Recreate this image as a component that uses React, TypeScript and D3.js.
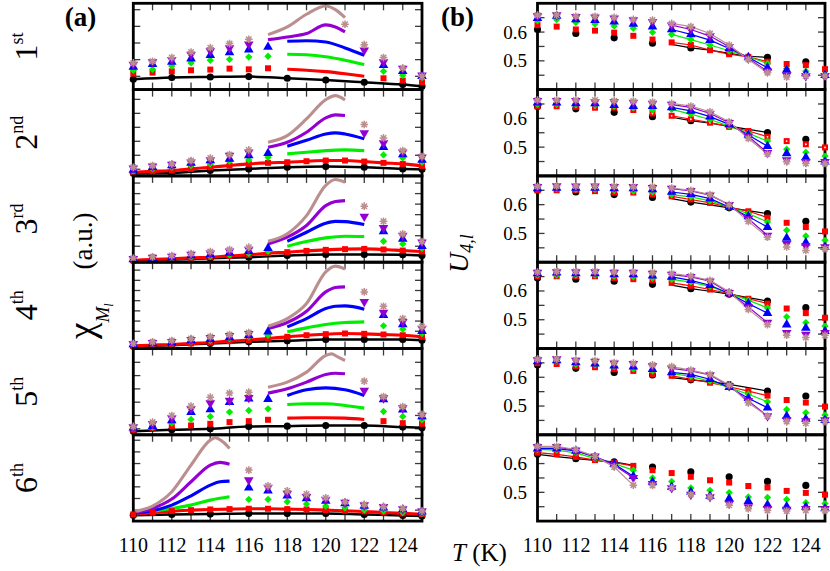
import React, { useEffect, useRef } from 'react';
import * as d3 from 'd3';

type Pt = [number, number];
type Num = number | null;

interface ChiSeries {
  marks: Pt[];
  fit?: Pt[];
  through?: boolean; // fit line drawn through the marks themselves
}

// temperatures (K)
const T_ALL = [110, 111, 112, 113, 114, 115, 116, 117, 118, 119, 120, 121, 122, 123, 124, 125];
const T_LABELS = [110, 112, 114, 116, 118, 120, 122, 124];

const ORDINALS = [['1', 'st'], ['2', 'nd'], ['3', 'rd'], ['4', 'th'], ['5', 'th'], ['6', 'th']];

const SERIES_KEYS = ['black', 'red', 'green', 'blue', 'purple', 'rosy'];
const COLORS: Record<string, string> = {
  black: '#000000',
  red: '#ff0000',
  green: '#00ee00',
  blue: '#0000ff',
  purple: '#9400d3',
  rosy: '#bc8f8f'
};

// ---------- panel (a): chi_M (a.u.), one object per mode ----------
const chi1st: Record<string, ChiSeries> = {
  black: { through: true, marks: [[110, 1.19], [112, 1.39], [114, 1.46], [116, 1.51], [118, 1.31], [120, 1.11], [122, 0.85], [124, 0.58], [125, 0.38]] },
  red: { marks: [[110, 1.85], [111, 1.97], [112, 2.12], [113, 2.24], [114, 2.32], [115, 2.43], [116, 2.35], [117, 2.47], [123, 1.31], [124, 1.04], [125, 0.85]],
    fit: [[118, 2.36], [119, 2.25], [120, 2.08], [121, 1.83], [122, 1.54]] },
  green: { marks: [[110, 2.24], [111, 2.35], [112, 2.74], [113, 3.09], [114, 3.4], [115, 3.51], [116, 3.78], [117, 3.86], [123, 2.12], [124, 1.66], [125, 1.39]],
    fit: [[118, 4.09], [119, 4.03], [120, 3.8], [121, 3.4], [122, 2.9]] },
  blue: { marks: [[110, 2.63], [111, 2.93], [112, 3.2], [113, 3.59], [114, 3.98], [115, 4.29], [116, 4.63], [117, 4.94], [123, 2.82], [124, 2.12], [125, 1.54]],
    fit: [[118, 5.6], [119, 5.66], [120, 5.52], [121, 4.83], [122, 3.98]] },
  purple: { marks: [[110, 2.9], [111, 3.2], [112, 3.47], [113, 4.05], [114, 4.48], [115, 4.83], [116, 5.25], [122, 4.56], [123, 3.2], [124, 2.43], [125, 1.66]],
    fit: [[117, 5.79], [118, 6.1], [119, 6.49], [120, 7.5], [120.5, 7.26], [121, 6.68]] },
  rosy: { marks: [[110, 3.09], [111, 3.28], [112, 3.71], [113, 4.36], [114, 4.86], [115, 5.33], [116, 5.83], [121, 7.57], [122, 5.21], [123, 3.71], [124, 2.51], [125, 1.54]],
    fit: [[117, 6.37], [118, 7.26], [119, 8.73], [120, 9.69], [120.5, 9.27], [121, 8.34]] }
};

const chi2nd: Record<string, ChiSeries> = {
  black: { through: true, marks: [[110, 0.31], [112, 0.35], [114, 0.62], [116, 0.81], [118, 1.0], [120, 1.08], [122, 1.0], [124, 0.81], [125, 0.77]] },
  red: { through: true, marks: [[110, 0.42], [111, 0.52], [112, 0.62], [113, 0.81], [114, 1.0], [115, 1.2], [116, 1.39], [117, 1.51], [118, 1.58], [119, 1.7], [120, 1.78], [121, 1.78], [122, 1.66], [123, 1.51], [124, 1.39], [125, 1.16]] },
  green: { marks: [[110, 0.54], [111, 0.81], [112, 1.0], [113, 1.2], [114, 1.39], [115, 1.7], [116, 1.85], [117, 2.16], [123, 2.43], [124, 2.08], [125, 1.58]],
    fit: [[118, 2.55], [119, 2.74], [120, 2.93], [121, 3.01], [122, 2.93]] },
  blue: { marks: [[110, 0.69], [111, 1.0], [112, 1.2], [113, 1.51], [114, 1.78], [115, 1.97], [116, 2.36], [117, 2.63], [123, 3.32], [124, 2.47], [125, 1.85]],
    fit: [[118, 3.44], [119, 4.13], [120, 4.86], [120.5, 4.98], [121, 4.86], [122, 4.29]] },
  purple: { marks: [[110, 0.89], [111, 1.12], [112, 1.31], [113, 1.58], [114, 1.85], [115, 2.36], [116, 2.74], [122, 4.98], [123, 3.82], [124, 2.74], [125, 2.16]],
    fit: [[117, 3.32], [118, 3.9], [119, 5.06], [120, 6.72], [120.5, 7.07], [121, 6.99]] },
  rosy: { marks: [[110, 1.0], [111, 1.2], [112, 1.39], [113, 1.78], [114, 2.08], [115, 2.47], [116, 3.01], [122, 5.95], [123, 4.4], [124, 2.93], [125, 2.24]],
    fit: [[117, 3.9], [118, 4.67], [119, 6.6], [120, 8.84], [120.5, 9.3], [121, 8.8]] }
};

const chi3rd: Record<string, ChiSeries> = {
  black: { through: true, marks: [[110, 0.19], [112, 0.31], [114, 0.46], [116, 0.58], [118, 0.77], [120, 0.89], [122, 0.89], [124, 0.85], [125, 0.77]] },
  red: { through: true, marks: [[110, 0.23], [111, 0.31], [112, 0.39], [113, 0.5], [114, 0.58], [115, 0.73], [116, 0.85], [117, 1.04], [118, 1.16], [119, 1.31], [120, 1.43], [121, 1.51], [122, 1.54], [123, 1.47], [124, 1.35], [125, 1.24]] },
  green: { marks: [[110, 0.23], [111, 0.31], [112, 0.39], [113, 0.58], [114, 0.69], [115, 0.85], [116, 1.04], [117, 1.27], [123, 2.43], [124, 2.12], [125, 1.62]],
    fit: [[118, 1.85], [119, 2.39], [120, 2.82], [121, 3.01], [122, 2.97]] },
  blue: { marks: [[110, 0.31], [111, 0.46], [112, 0.54], [113, 0.77], [114, 0.89], [115, 1.08], [116, 1.27], [117, 1.62], [123, 3.55], [124, 2.7], [125, 1.85]],
    fit: [[118, 2.43], [119, 3.47], [120, 4.52], [120.5, 4.73], [121, 4.7], [122, 4.36]] },
  purple: { marks: [[110, 0.39], [111, 0.54], [112, 0.66], [113, 0.89], [114, 1.04], [115, 1.27], [116, 1.47], [122, 5.29], [123, 3.98], [124, 3.09], [125, 2.32]],
    fit: [[117, 2.12], [118, 2.9], [119, 4.25], [120, 6.56], [120.5, 7.03], [121, 7.14]] },
  rosy: { marks: [[110, 0.46], [111, 0.62], [112, 0.77], [113, 1.0], [114, 1.24], [115, 1.47], [116, 1.74], [122, 6.49], [123, 4.75], [124, 3.28], [125, 2.39]],
    fit: [[117, 2.43], [118, 3.3], [119, 5.4], [120, 8.9], [120.5, 9.58], [121, 9.27]] }
};

const chi4th: Record<string, ChiSeries> = {
  black: { through: true, marks: [[110, 0.27], [112, 0.39], [114, 0.58], [116, 0.77], [118, 0.89], [120, 1.04], [122, 1.04], [124, 1.04], [125, 0.97]] },
  red: { through: true, marks: [[110, 0.31], [111, 0.39], [112, 0.46], [113, 0.58], [114, 0.69], [115, 0.85], [116, 0.97], [117, 1.16], [118, 1.35], [119, 1.54], [120, 1.66], [121, 1.74], [122, 1.7], [123, 1.62], [124, 1.54], [125, 1.35]] },
  green: { marks: [[110, 0.39], [111, 0.46], [112, 0.58], [113, 0.77], [114, 0.93], [115, 1.16], [116, 1.35], [117, 1.54], [123, 2.63], [124, 2.24], [125, 1.74]],
    fit: [[118, 1.93], [119, 2.39], [120, 2.78], [121, 3.01], [122, 3.09]] },
  blue: { marks: [[110, 0.46], [111, 0.58], [112, 0.69], [113, 0.93], [114, 1.08], [115, 1.27], [116, 1.54], [117, 1.93], [123, 3.86], [124, 2.78], [125, 2.01]],
    fit: [[118, 2.51], [119, 3.47], [120, 4.63], [120.5, 4.9], [121, 4.94], [122, 4.56]] },
  purple: { marks: [[110, 0.54], [111, 0.66], [112, 0.77], [113, 1.0], [114, 1.24], [115, 1.47], [116, 1.7], [122, 5.41], [123, 4.17], [124, 3.09], [125, 2.32]],
    fit: [[117, 2.32], [118, 3.01], [119, 4.32], [120, 6.56], [120.5, 7.07], [121, 7.14]] },
  rosy: { marks: [[110, 0.58], [111, 0.77], [112, 0.93], [113, 1.16], [114, 1.39], [115, 1.62], [116, 1.85], [122, 6.56], [123, 4.9], [124, 3.47], [125, 2.51]],
    fit: [[117, 2.59], [118, 3.47], [119, 5.21], [120, 8.88], [120.5, 9.54], [121, 9.19]] }
};

const chi5th: Record<string, ChiSeries> = {
  black: { through: true, marks: [[110, 0.42], [112, 0.58], [114, 0.69], [116, 0.97], [118, 1.0], [120, 1.08], [122, 1.08], [124, 0.89], [125, 0.81]] },
  red: { marks: [[110, 0.58], [111, 0.81], [112, 1.0], [113, 1.08], [114, 1.27], [115, 1.47], [116, 1.58], [117, 1.74], [123, 1.58], [124, 1.35], [125, 1.27]],
    fit: [[118, 1.93], [119, 1.97], [120, 1.97], [121, 1.93], [122, 1.78]] },
  green: { marks: [[110, 0.69], [111, 0.89], [112, 1.35], [113, 1.78], [114, 2.12], [115, 2.63], [116, 2.82], [117, 3.01], [123, 2.7], [124, 2.12], [125, 1.74]],
    fit: [[118, 3.51], [119, 3.59], [120, 3.59], [121, 3.4], [122, 3.09]] },
  blue: { marks: [[110, 0.81], [111, 1.0], [112, 1.66], [113, 2.63], [114, 2.94], [115, 3.78], [116, 4.17], [117, 4.13], [123, 4.09], [124, 2.9], [125, 2.12]],
    fit: [[118, 4.56], [119, 5.21], [120, 5.44], [121, 5.21], [122, 4.56]] },
  purple: { marks: [[110, 0.89], [111, 1.27], [112, 1.93], [113, 3.01], [114, 3.67], [115, 3.98], [116, 4.29], [122, 5.14], [123, 4.25], [124, 3.09], [125, 2.24]],
    fit: [[117, 4.83], [118, 5.33], [119, 6.1], [120, 6.99], [120.5, 7.14], [121, 7.07]] },
  rosy: { marks: [[110, 0.97], [111, 1.47], [112, 2.24], [113, 3.32], [114, 4.36], [115, 4.83], [116, 4.94], [122, 6.22], [123, 4.44], [124, 3.28], [125, 2.36]],
    fit: [[117, 5.52], [118, 6.1], [119, 7.26], [120, 9.19], [120.3, 9.38], [120.6, 9.05], [121, 8.61]] }
};

const chi6th: Record<string, ChiSeries> = {
  black: { through: true, marks: [[110, 0.69], [112, 0.77], [114, 0.81], [116, 0.89], [118, 0.89], [120, 0.89], [122, 0.77], [124, 0.66], [125, 0.58]] },
  red: { through: true, marks: [[110, 0.77], [111, 0.97], [112, 1.16], [113, 1.27], [114, 1.35], [115, 1.39], [116, 1.43], [117, 1.43], [118, 1.39], [119, 1.35], [120, 1.27], [121, 1.2], [122, 1.12], [123, 1.0], [124, 0.89], [125, 0.81]] },
  green: { marks: [[116, 2.51], [117, 2.51], [118, 2.24], [119, 1.97], [120, 1.74], [121, 1.54], [122, 1.27], [123, 1.16], [124, 1.0], [125, 0.89]],
    fit: [[110, 0.89], [111, 1.16], [112, 1.47], [113, 1.85], [114, 2.43], [115, 2.82]] },
  blue: { marks: [[116, 3.86], [117, 3.51], [118, 2.93], [119, 2.63], [120, 2.32], [121, 2.05], [122, 1.74], [123, 1.54], [124, 1.35], [125, 1.08]],
    fit: [[110, 0.89], [111, 1.2], [112, 1.85], [113, 2.93], [114, 4.17], [114.5, 4.56], [115, 4.63]] },
  purple: { marks: [[116, 4.75], [117, 3.9], [118, 3.2], [119, 2.82], [120, 2.51], [121, 2.16], [122, 1.85], [123, 1.66], [124, 1.39], [125, 1.16]],
    fit: [[110, 0.97], [111, 1.47], [112, 2.55], [113, 4.56], [114, 6.49], [114.5, 6.8], [115, 6.6]] },
  rosy: { marks: [[116, 5.91], [117, 4.09], [118, 3.51], [119, 3.13], [120, 2.7], [121, 2.24], [122, 1.93], [123, 1.66], [124, 1.47], [125, 1.16]],
    fit: [[110, 1.08], [111, 1.74], [112, 3.4], [113, 6.49], [114, 9.38], [114.25, 9.65], [114.65, 9.19], [115, 8.42]] }
};

const CHI_PANELS = [chi1st, chi2nd, chi3rd, chi4th, chi5th, chi6th];
// left-axis tick marks of each (a) panel: [first tick, spacing] in a.u.
const CHI_TICKS: [number, number][] = [[1.54, 1.93], [0.77, 1.62], [1.85, 1.22], [2.0, 1.18], [0.7, 1.54], [1.27, 1.35]];

// ---------- panel (b): Binder cumulant U_4,l, values at T_ALL ----------
const u4_1st: Record<string, Num[]> = {
  black: [0.609, null, 0.595, null, 0.58, null, 0.561, 0.557, 0.545, 0.537, 0.526, 0.516, 0.512, null, 0.497, null],
  red: [0.624, 0.619, 0.609, 0.605, 0.598, 0.587, 0.574, 0.564, 0.555, 0.537, 0.523, 0.514, 0.497, 0.489, 0.485, 0.471],
  green: [0.639, 0.643, 0.633, 0.628, 0.621, 0.613, 0.599, 0.592, 0.574, 0.555, 0.535, 0.514, 0.491, 0.473, 0.464, 0.454],
  blue: [0.648, 0.656, 0.644, 0.641, 0.636, 0.628, 0.619, 0.609, 0.592, 0.572, 0.543, 0.512, 0.476, 0.468, 0.456, 0.45],
  purple: [0.656, 0.659, 0.653, 0.651, 0.648, 0.642, 0.636, 0.624, 0.609, 0.586, 0.549, 0.508, 0.464, 0.45, 0.447, 0.448],
  rosy: [0.659, 0.659, 0.655, 0.655, 0.651, 0.644, 0.642, 0.63, 0.619, 0.595, 0.555, 0.505, 0.459, 0.444, 0.447, 0.447]
};

const u4_2nd: Record<string, Num[]> = {
  black: [0.641, null, 0.633, null, 0.621, null, 0.606, 0.604, 0.592, 0.583, 0.573, 0.562, 0.551, null, 0.527, null],
  red: [0.642, 0.642, 0.64, 0.637, 0.637, 0.629, 0.617, 0.609, 0.597, 0.585, 0.571, 0.556, 0.536, 0.521, 0.51, 0.499],
  green: [0.649, 0.649, 0.648, 0.646, 0.642, 0.637, 0.629, 0.631, 0.615, 0.596, 0.573, 0.548, 0.521, 0.493, 0.482, 0.469],
  blue: [0.654, 0.654, 0.652, 0.652, 0.646, 0.642, 0.642, 0.638, 0.626, 0.606, 0.579, 0.542, 0.503, 0.478, 0.464, 0.449],
  purple: [0.661, 0.661, 0.661, 0.657, 0.657, 0.655, 0.652, 0.648, 0.638, 0.617, 0.585, 0.538, 0.48, 0.455, 0.449, 0.449],
  rosy: [0.664, 0.664, 0.664, 0.664, 0.661, 0.66, 0.657, 0.652, 0.643, 0.623, 0.588, 0.53, 0.476, 0.449, 0.443, 0.443]
};

const u4_3rd: Record<string, Num[]> = {
  black: [0.65, null, 0.644, null, 0.635, null, 0.625, 0.621, 0.609, 0.599, 0.589, 0.579, 0.569, null, 0.542, null],
  red: [0.65, 0.65, 0.65, 0.647, 0.642, 0.642, 0.635, 0.629, 0.618, 0.606, 0.592, 0.577, 0.555, 0.537, 0.522, 0.507],
  green: [0.656, 0.656, 0.653, 0.653, 0.65, 0.647, 0.644, 0.635, 0.627, 0.613, 0.592, 0.569, 0.54, 0.511, 0.491, 0.476],
  blue: [0.656, 0.658, 0.658, 0.658, 0.656, 0.656, 0.653, 0.644, 0.636, 0.621, 0.592, 0.559, 0.522, 0.484, 0.468, 0.453],
  purple: [0.662, 0.665, 0.664, 0.664, 0.662, 0.662, 0.659, 0.656, 0.648, 0.633, 0.6, 0.551, 0.493, 0.464, 0.456, 0.453],
  rosy: [0.664, 0.665, 0.665, 0.664, 0.664, 0.662, 0.662, 0.658, 0.65, 0.635, 0.6, 0.542, 0.487, 0.453, 0.441, 0.447]
};

const u4_4th: Record<string, Num[]> = {
  black: [0.645, null, 0.641, null, 0.634, null, 0.623, 0.62, 0.608, 0.599, 0.589, 0.577, 0.565, null, 0.542, null],
  red: [0.651, 0.651, 0.651, 0.651, 0.645, 0.641, 0.637, 0.628, 0.618, 0.605, 0.591, 0.573, 0.556, 0.539, 0.523, 0.507],
  green: [0.655, 0.655, 0.655, 0.655, 0.651, 0.649, 0.645, 0.64, 0.631, 0.616, 0.591, 0.568, 0.541, 0.51, 0.49, 0.478],
  blue: [0.661, 0.663, 0.661, 0.661, 0.657, 0.657, 0.653, 0.649, 0.637, 0.62, 0.591, 0.556, 0.523, 0.483, 0.471, 0.46],
  purple: [0.664, 0.666, 0.666, 0.666, 0.664, 0.664, 0.661, 0.657, 0.649, 0.634, 0.594, 0.544, 0.49, 0.455, 0.449, 0.455],
  rosy: [0.666, 0.668, 0.668, 0.668, 0.666, 0.666, 0.664, 0.661, 0.652, 0.637, 0.597, 0.536, 0.483, 0.446, 0.438, 0.446]
};

const u4_5th: Record<string, Num[]> = {
  black: [0.643, null, 0.631, null, 0.617, null, 0.608, 0.599, 0.591, 0.585, 0.575, 0.564, 0.552, null, 0.535, null],
  red: [0.649, 0.646, 0.639, 0.635, 0.628, 0.622, 0.611, 0.605, 0.593, 0.581, 0.567, 0.552, 0.536, 0.521, 0.512, 0.498],
  green: [0.655, 0.655, 0.645, 0.643, 0.637, 0.629, 0.622, 0.614, 0.602, 0.587, 0.564, 0.541, 0.515, 0.488, 0.477, 0.469],
  blue: [0.655, 0.658, 0.651, 0.647, 0.64, 0.637, 0.628, 0.617, 0.61, 0.593, 0.565, 0.527, 0.494, 0.465, 0.455, 0.451],
  purple: [0.66, 0.663, 0.658, 0.655, 0.649, 0.647, 0.639, 0.631, 0.622, 0.608, 0.57, 0.518, 0.465, 0.451, 0.448, 0.451],
  rosy: [0.663, 0.663, 0.66, 0.658, 0.651, 0.649, 0.643, 0.637, 0.625, 0.61, 0.573, 0.511, 0.465, 0.446, 0.44, 0.446]
};

const u4_6th: Record<string, Num[]> = {
  black: [0.632, 0.624, 0.617, 0.611, 0.606, 0.594, 0.588, null, 0.571, null, 0.554, null, 0.538, null, 0.524, null],
  red: [0.638, 0.632, 0.623, 0.612, 0.603, 0.592, 0.577, 0.567, 0.554, 0.542, 0.534, 0.522, 0.517, 0.505, 0.498, 0.492],
  green: [0.649, 0.647, 0.637, 0.617, 0.6, 0.577, 0.55, 0.538, 0.515, 0.507, 0.499, 0.484, 0.482, 0.475, 0.464, 0.461],
  blue: [0.652, 0.652, 0.644, 0.623, 0.598, 0.556, 0.536, 0.519, 0.501, 0.487, 0.478, 0.469, 0.457, 0.451, 0.449, 0.444],
  purple: [0.658, 0.658, 0.646, 0.625, 0.594, 0.551, 0.53, 0.515, 0.492, 0.484, 0.461, 0.449, 0.443, 0.44, 0.443, 0.443],
  rosy: [0.66, 0.66, 0.649, 0.625, 0.588, 0.525, 0.524, 0.516, 0.493, 0.484, 0.455, 0.443, 0.437, 0.435, 0.437, 0.437]
};

const U4_PANELS = [u4_1st, u4_2nd, u4_3rd, u4_4th, u4_5th, u4_6th];
const U4_FIT_RANGE: [number, number][] = [[117, 122], [117, 122], [117, 122], [117, 122], [117, 122], [110, 115]];
const U4_TICKS = [0.45, 0.5, 0.55, 0.6, 0.65];
const U4_LABELS = [0.5, 0.6];

// 8-armed asterisk marker
const symbolStar8 = {
  draw(ctx: any, size: number) {
    const r = Math.sqrt(size) * 0.62;
    const d = r * 0.72;
    ctx.moveTo(-r, 0); ctx.lineTo(r, 0);
    ctx.moveTo(0, -r); ctx.lineTo(0, r);
    ctx.moveTo(-d, -d); ctx.lineTo(d, d);
    ctx.moveTo(-d, d); ctx.lineTo(d, -d);
  }
};

const W = 830;
const H = 571;
const TOP = 3.3;
const PANEL_H = 86.3;
const A_RANGE: [number, number] = [133.3, 422];
const B_RANGE: [number, number] = [537.5, 825];
const FONT = "'Liberation Serif', 'Times New Roman', serif";

function drawMarker(g: any, key: string, x: number, y: number, dotted = false) {
  const color = COLORS[key];
  if (key === 'rosy') {
    g.append('path')
      .attr('d', d3.symbol().type(symbolStar8 as any).size(38)())
      .attr('transform', `translate(${x},${y})`)
      .attr('stroke', color)
      .attr('stroke-width', 1.5)
      .attr('fill', 'none');
    return;
  }
  let type: any = d3.symbolCircle;
  let size = 40;
  let rot = 0;
  if (key === 'red') { type = d3.symbolSquare; size = 36; }
  if (key === 'green') { type = d3.symbolSquare; size = 27; rot = 45; }
  if (key === 'blue') { type = d3.symbolTriangle; size = 40; }
  if (key === 'purple') { type = d3.symbolTriangle; size = 40; rot = 180; }
  g.append('path')
    .attr('d', d3.symbol().type(type).size(size)())
    .attr('transform', `translate(${x},${y}) rotate(${rot})`)
    .attr('fill', color);
  if (dotted) {
    g.append('circle').attr('cx', x).attr('cy', y).attr('r', 0.9).attr('fill', '#fff');
  }
}

function drawTicks(g: any, x: any, y: any, yTicks: number[], top: number, bottom: number) {
  const [x0, x1] = x.range();
  const tg = g.append('g').attr('stroke', '#3a3a3a').attr('stroke-width', 1.3);
  T_ALL.forEach(t => {
    const px = x(t);
    tg.append('line').attr('x1', px).attr('x2', px).attr('y1', bottom).attr('y2', bottom - 7);
    tg.append('line').attr('x1', px).attr('x2', px).attr('y1', top).attr('y2', top + 7);
  });
  yTicks.forEach(v => {
    const py = y(v);
    tg.append('line').attr('x1', x0).attr('x2', x0 + 7).attr('y1', py).attr('y2', py);
    tg.append('line').attr('x1', x1).attr('x2', x1 - 7).attr('y1', py).attr('y2', py);
  });
}

export default function App() {
  const svgRef = useRef<SVGSVGElement>(null);

  useEffect(() => {
    const svg = d3.select(svgRef.current);
    svg.selectAll('*').remove();
    svg.attr('font-family', FONT);

    const defs = svg.append('defs');
    const xA = d3.scaleLinear().domain([110, 125]).range(A_RANGE);
    const xB = d3.scaleLinear().domain([110, 125]).range(B_RANGE);

    for (let i = 0; i < 6; i++) {
      const top = TOP + i * PANEL_H;
      const bottom = top + PANEL_H;

      // ---- (a) chi panels ----
      const yA = d3.scaleLinear().domain([0, 10]).range([bottom, top]);
      const gA = svg.append('g');
      const [t0, step] = CHI_TICKS[i];
      drawTicks(gA, xA, yA, d3.range(t0, 10, step), top, bottom);

      defs.append('clipPath').attr('id', `clipA${i}`)
        .append('rect').attr('x', A_RANGE[0]).attr('y', top).attr('width', A_RANGE[1] - A_RANGE[0]).attr('height', PANEL_H);

      const chi = CHI_PANELS[i];
      const lineA = d3.line<Pt>().x(d => xA(d[0])).y(d => yA(d[1])).curve(d3.curveMonotoneX);
      const linesA = gA.append('g').attr('clip-path', `url(#clipA${i})`);
      SERIES_KEYS.forEach(k => {
        const s = chi[k];
        const pts = s.through ? s.marks : s.fit;
        if (!pts) return;
        linesA.append('path')
          .attr('d', lineA(pts))
          .attr('fill', 'none')
          .attr('stroke', COLORS[k])
          .attr('stroke-width', k === 'black' ? 2.5 : 3.1)
          .attr('stroke-linecap', 'butt');
      });

      gA.append('rect')
        .attr('x', A_RANGE[0]).attr('y', top)
        .attr('width', A_RANGE[1] - A_RANGE[0]).attr('height', PANEL_H)
        .attr('fill', 'none').attr('stroke', '#000').attr('stroke-width', 2.8);

      SERIES_KEYS.forEach(k => {
        chi[k].marks.forEach(([t, v]) => drawMarker(gA, k, xA(t), yA(v)));
      });

      // ordinal label
      const [num, sup] = ORDINALS[i];
      const lab = svg.append('text')
        .attr('transform', `translate(37,${top + PANEL_H / 2}) rotate(-90)`)
        .attr('text-anchor', 'middle')
        .attr('font-size', 32);
      lab.append('tspan').text(num);
      lab.append('tspan').attr('font-size', 18).attr('dy', -14).text(sup);

      // ---- (b) U4 panels ----
      const yB = d3.scaleLinear().domain([0.4, 0.7]).range([bottom, top]);
      const gB = svg.append('g');
      drawTicks(gB, xB, yB, U4_TICKS, top, bottom);

      const u4 = U4_PANELS[i];
      const [f0, f1] = U4_FIT_RANGE[i];
      const lineB = d3.line<[number, Num]>()
        .defined(d => d[1] !== null)
        .x(d => xB(d[0]))
        .y(d => yB(d[1] as number));
      SERIES_KEYS.forEach(k => {
        const pts = T_ALL.map((t, j) => [t, u4[k][j]] as [number, Num]).filter(d => d[0] >= f0 && d[0] <= f1);
        gB.append('path')
          .attr('d', lineB(pts))
          .attr('fill', 'none')
          .attr('stroke', COLORS[k])
          .attr('stroke-width', 1.2);
      });

      gB.append('rect')
        .attr('x', B_RANGE[0]).attr('y', top)
        .attr('width', B_RANGE[1] - B_RANGE[0]).attr('height', PANEL_H)
        .attr('fill', 'none').attr('stroke', '#000').attr('stroke-width', 2.8);

      SERIES_KEYS.forEach(k => {
        T_ALL.forEach((t, j) => {
          const v = u4[k][j];
          if (v === null) return;
          if (k === 'black' && t % 2 !== 0) return;
          drawMarker(gB, k, xB(t), yB(v), k === 'red' && i === 1);
        });
      });

      U4_LABELS.forEach(v => {
        svg.append('text')
          .attr('x', 527).attr('y', yB(v)).attr('dy', '0.34em')
          .attr('text-anchor', 'end')
          .attr('font-size', 19)
          .text(d3.format('.1f')(v));
      });
    }

    // x tick labels
    [xA, xB].forEach(x => {
      T_LABELS.forEach(t => {
        svg.append('text')
          .attr('x', x(t)).attr('y', 552)
          .attr('text-anchor', 'middle')
          .attr('font-size', 20)
          .text(t);
      });
    });

    // panel tags
    svg.append('text').attr('x', 80.5).attr('y', 26).attr('text-anchor', 'middle')
      .attr('font-size', 27).attr('font-weight', 'bold').text('(a)');
    svg.append('text').attr('x', 457.5).attr('y', 26).attr('text-anchor', 'middle')
      .attr('font-size', 27).attr('font-weight', 'bold').text('(b)');

    // y label (a)
    const chiLab = svg.append('text')
      .attr('transform', 'translate(94,339) rotate(-90)')
      .attr('font-size', 37);
    chiLab.append('tspan').text('χ');
    chiLab.append('tspan').attr('font-size', 19).attr('font-style', 'italic').attr('dy', 15).text('M');
    chiLab.append('tspan').attr('font-size', 12).attr('font-style', 'italic').attr('dy', 4).text('l');
    svg.append('text')
      .attr('transform', 'translate(92,241) rotate(-90)')
      .attr('text-anchor', 'middle')
      .attr('font-size', 27)
      .text('(a.u.)');

    // y label (b)
    const uLab = svg.append('text')
      .attr('transform', 'translate(468,273) rotate(-90)')
      .attr('font-size', 28)
      .attr('font-style', 'italic');
    uLab.append('tspan').text('U');
    uLab.append('tspan').attr('font-size', 18).attr('dy', 5).text('4,l');

    // x label
    const tLab = svg.append('text').attr('x', 452).attr('y', 561).attr('font-size', 25);
    tLab.append('tspan').attr('font-style', 'italic').text('T');
    tLab.append('tspan').text(' (K)');
  }, []);

  return (
    <svg
      ref={svgRef}
      width={W}
      height={H}
      style={{ position: 'absolute', left: 0, top: 0, background: '#fff' }}
    />
  );
}
